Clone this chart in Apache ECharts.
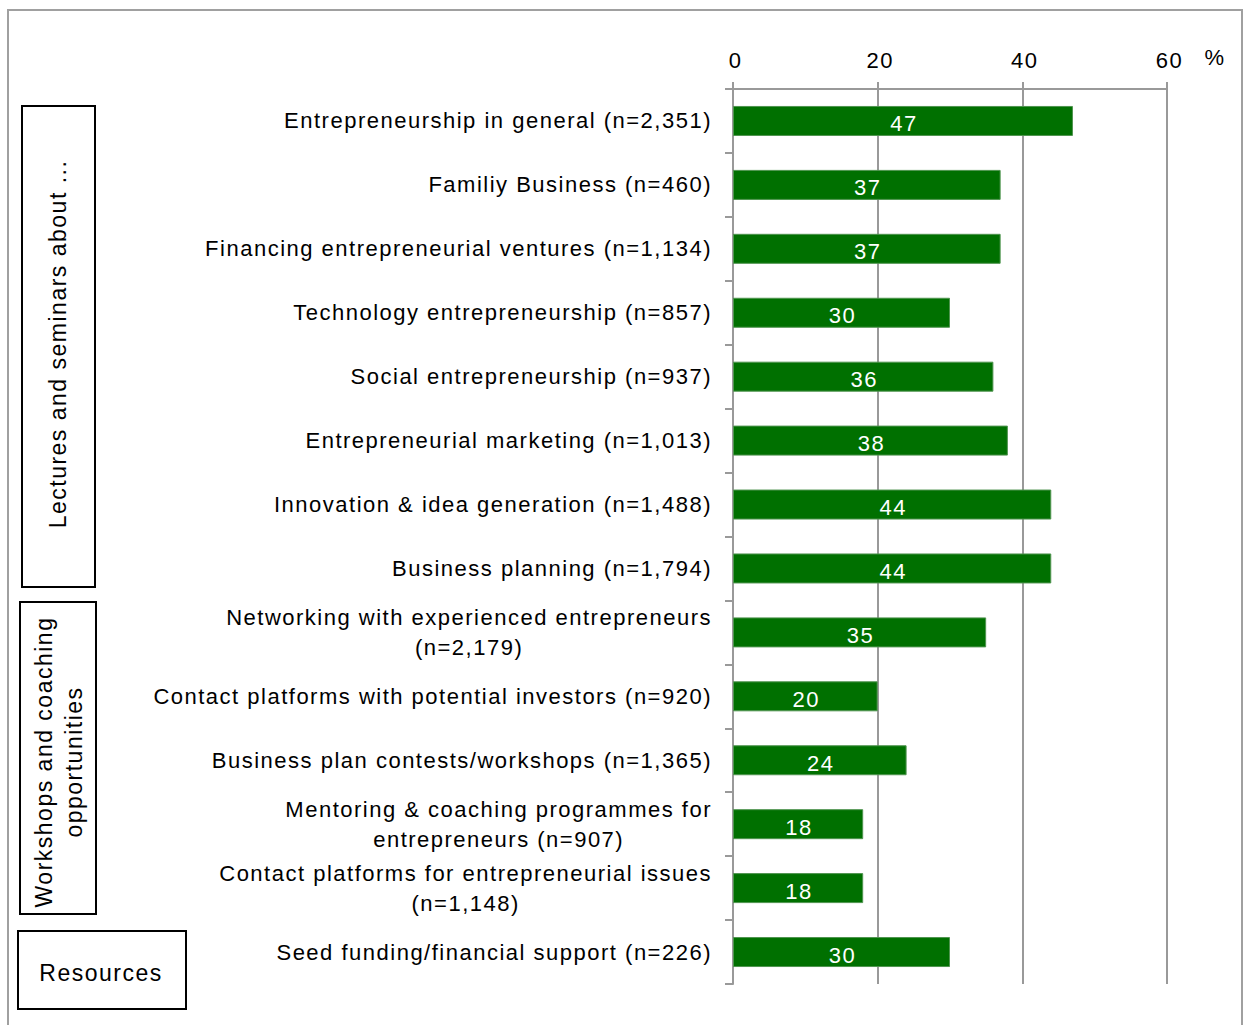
<!DOCTYPE html>
<html>
<head>
<meta charset="utf-8">
<title>Entrepreneurship offers</title>
<script src="https://cdn.jsdelivr.net/npm/echarts@6/dist/echarts.min.js"></script>
<style>
  html, body { margin: 0; padding: 0; background: #ffffff; }
  #chart { width: 1243px; height: 1025px; }
  /* slightly tracked-out lettering, as in the printed figure */
  #chart svg text { letter-spacing: 1.5px; }
</style>
</head>
<body>
<div id="chart"></div>
<script>
// Offer categories, top to bottom
const categories = [
  'Entrepreneurship in general (n=2,351)',
  'Familiy Business (n=460)',
  'Financing entrepreneurial ventures (n=1,134)',
  'Technology entrepreneurship (n=857)',
  'Social entrepreneurship (n=937)',
  'Entrepreneurial marketing (n=1,013)',
  'Innovation & idea generation (n=1,488)',
  'Business planning (n=1,794)',
  'Networking with experienced entrepreneurs\n(n=2,179)',
  'Contact platforms with potential investors (n=920)',
  'Business plan contests/workshops (n=1,365)',
  'Mentoring & coaching programmes for\nentrepreneurs (n=907)',
  'Contact platforms for entrepreneurial issues\n(n=1,148)',
  'Seed funding/financial support (n=226)'
];

// Share of respondents, in percent
const shares = [47, 37, 37, 30, 36, 38, 44, 44, 35, 20, 24, 18, 18, 30];

// Value axis ticks
const axisTicks = [0, 20, 40, 60];
const axisUnit = '%';

// Group headings on the left
const groupLabels = [
  'Lectures and seminars about ...',
  'Workshops and coaching\nopportunities',
  'Resources'
];

const FONT = '"Liberation Sans", Arial, sans-serif';
const GRID_GREY = '#999999';
const BAR_GREEN = '#007000';
const TRACKING = 1.5; // px of letter-spacing added by the stylesheet

const chart = echarts.init(document.getElementById('chart'), null, { renderer: 'svg' });

// Two-line labels are centred line by line, one-line labels sit flush right.
// The extra tracking is not part of the measured width, so each two-line
// label gets a right padding that keeps its centred block flush right.
const richStyles = {};
categories.forEach(function (name, i) {
  if (name.indexOf('\n') < 0) return;
  const longest = Math.max.apply(null, name.split('\n').map(function (l) { return l.length; }));
  richStyles['m' + i] = {
    align: 'center', fontFamily: FONT, fontSize: 22, lineHeight: 30, color: '#000',
    padding: [0, longest * TRACKING / 2, 0, 0]
  };
});

function categoryLabel(value, index) {
  if (value.indexOf('\n') < 0) return value;
  return value.split('\n').map(function (line) { return '{m' + index + '|' + line + '}'; }).join('\n');
}

chart.setOption({
  animation: false,
  backgroundColor: '#ffffff',
  grid: { left: 733, right: 76, top: 89, bottom: 41, containLabel: false },
  xAxis: {
    type: 'value',
    position: 'top',
    min: axisTicks[0],
    max: axisTicks[axisTicks.length - 1],
    interval: axisTicks[1] - axisTicks[0],
    axisLine: { show: true, lineStyle: { color: GRID_GREY, width: 2 } },
    axisTick: { show: true, length: 7, lineStyle: { color: GRID_GREY, width: 2 } },
    splitLine: { show: true, lineStyle: { color: GRID_GREY, width: 2 } },
    axisLabel: { color: '#000', fontFamily: FONT, fontSize: 22, margin: 18, padding: [0, 0, 0, 5] }
  },
  yAxis: {
    type: 'category',
    inverse: true,
    data: categories,
    axisLine: { show: true, lineStyle: { color: GRID_GREY, width: 2 } },
    axisTick: { show: true, length: 8, alignWithLabel: false, lineStyle: { color: GRID_GREY, width: 2 } },
    splitLine: { show: false },
    axisLabel: {
      color: '#000',
      fontFamily: FONT,
      fontSize: 22,
      lineHeight: 30,
      margin: 21,
      align: 'right',
      formatter: categoryLabel,
      rich: richStyles
    }
  },
  series: [{
    type: 'bar',
    data: shares,
    barWidth: 30,
    itemStyle: { color: BAR_GREEN, borderColor: '#4f944f', borderWidth: 1 },
    label: {
      show: true,
      position: 'inside',
      color: '#ffffff',
      fontFamily: FONT,
      fontSize: 22,
      offset: [1, 3]
    }
  }],
  graphic: [
    {
      type: 'rect',
      shape: { x: 8, y: 10, width: 1234, height: 1040 },
      style: { fill: null, stroke: '#a0a0a0', lineWidth: 2 },
      silent: true
    },
    {
      type: 'text',
      x: 1215, y: 57,
      style: { text: axisUnit, font: '22px ' + FONT, fill: '#000', align: 'center', verticalAlign: 'middle' }
    },
    {
      type: 'rect',
      shape: { x: 22, y: 106, width: 73, height: 481 },
      style: { fill: '#fff', stroke: '#000', lineWidth: 2 }
    },
    {
      type: 'text',
      x: 58, y: 344, rotation: Math.PI / 2,
      style: { text: groupLabels[0], font: '23px ' + FONT, fill: '#000', align: 'center', verticalAlign: 'middle' }
    },
    {
      type: 'rect',
      shape: { x: 20, y: 602, width: 76, height: 312 },
      style: { fill: '#fff', stroke: '#000', lineWidth: 2 }
    },
    {
      type: 'text',
      x: 59, y: 762, rotation: Math.PI / 2,
      style: { text: groupLabels[1], font: '23px ' + FONT, fill: '#000', align: 'center', verticalAlign: 'middle', lineHeight: 30 }
    },
    {
      type: 'rect',
      shape: { x: 18, y: 931, width: 168, height: 78 },
      style: { fill: '#fff', stroke: '#000', lineWidth: 2 }
    },
    {
      type: 'text',
      x: 101, y: 973,
      style: { text: groupLabels[2], font: '23px ' + FONT, fill: '#000', align: 'center', verticalAlign: 'middle' }
    }
  ]
});
</script>
</body>
</html>
